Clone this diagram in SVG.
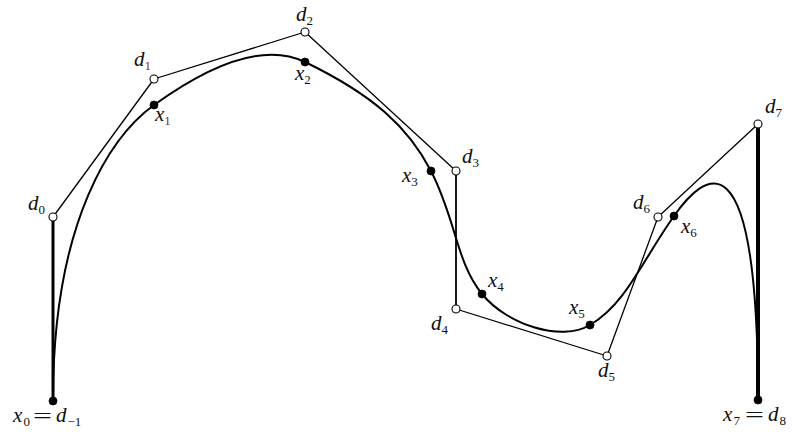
<svg xmlns="http://www.w3.org/2000/svg" width="793" height="433" viewBox="0 0 793 433">
<style>
.poly{fill:none;stroke:#000;stroke-width:1.3;stroke-linejoin:round}
.curve{fill:none;stroke:#000;stroke-width:2}
.ctrl{fill:#fff;stroke:#000;stroke-width:1.1}
.knot{fill:#000;stroke:#000;stroke-width:0.8}
.lbl{font-family:"Liberation Serif","DejaVu Serif",serif;font-style:italic;font-size:21px;fill:#111}
.sub{font-family:"Liberation Serif","DejaVu Serif",serif;font-style:normal;font-size:13px;fill:#111}
.eq{font-family:"Liberation Serif","DejaVu Serif",serif;font-size:22px;fill:#111}
.red{fill:#7a1f3d}
</style>
<rect width="793" height="433" fill="#fff"/>
<g id="connectors">
<line x1="53" y1="400" x2="53" y2="217" stroke="#000" stroke-width="3"/>
<line x1="758" y1="124" x2="758" y2="400" stroke="#000" stroke-width="4"/>
<polyline class="poly" points="53,217 154,79 305,32 456,171"/>
<line x1="456" y1="171" x2="456" y2="309" stroke="#000" stroke-width="1.8"/>
<polyline class="poly" points="456,309 607,356 658,217 758,124"/>
<path class="curve" d="M53,400 C53,217 113.6,134.2 154,105 C217.2,59.4 267.25,43.75 305,62 C373.6,95.2 408.3,127.1 431,171 C456,219.3 456,262 482,294 C507.1,324.9 561.7,342 590,325 C626.4,303.2 641.7,261.5 674,216 C703,175.15 758,124 758,400"/>
</g>
<g id="d0"><circle class="ctrl" cx="53" cy="217" r="4"/><text class="lbl" x="28" y="210">d<tspan class="sub" dy="4">0</tspan></text></g>
<g id="d1"><circle class="ctrl" cx="154" cy="79" r="4"/><text class="lbl" x="134" y="66">d<tspan class="sub red" dy="4">1</tspan></text></g>
<g id="d2"><circle class="ctrl" cx="305" cy="32" r="4"/><text class="lbl" x="296" y="21">d<tspan class="sub" dy="4">2</tspan></text></g>
<g id="d3"><circle class="ctrl" cx="456" cy="171" r="4"/><text class="lbl" x="462" y="163">d<tspan class="sub" dy="4">3</tspan></text></g>
<g id="d4"><circle class="ctrl" cx="456" cy="309" r="4"/><text class="lbl" x="431" y="330">d<tspan class="sub" dy="4">4</tspan></text></g>
<g id="d5"><circle class="ctrl" cx="607" cy="356" r="4"/><text class="lbl" x="598" y="377">d<tspan class="sub" dy="4">5</tspan></text></g>
<g id="d6"><circle class="ctrl" cx="658" cy="217" r="4"/><text class="lbl" x="633" y="209">d<tspan class="sub" dy="4">6</tspan></text></g>
<g id="d7"><circle class="ctrl" cx="758" cy="124" r="4"/><text class="lbl" x="765" y="113">d<tspan class="sub" dy="4">7</tspan></text></g>
<g id="x0"><circle class="knot" cx="53" cy="401" r="4"/>
<text class="lbl" x="13" y="422">x</text><text class="sub" x="23.5" y="426">0</text>
<text class="eq" x="33" y="423" textLength="19" lengthAdjust="spacingAndGlyphs">=</text>
<text class="lbl" x="56" y="422">d</text><text class="sub" x="67.5" y="426">−1</text></g>
<g id="x1"><circle class="knot" cx="154" cy="105" r="4"/><text class="lbl" x="155" y="121">x<tspan class="sub red" dy="4">1</tspan></text></g>
<g id="x2"><circle class="knot" cx="305" cy="62" r="4"/><text class="lbl" x="295" y="80">x<tspan class="sub" dy="4">2</tspan></text></g>
<g id="x3"><circle class="knot" cx="431" cy="171" r="4"/><text class="lbl" x="402" y="182">x<tspan class="sub" dy="4">3</tspan></text></g>
<g id="x4"><circle class="knot" cx="482" cy="294" r="4"/><text class="lbl" x="488" y="287">x<tspan class="sub" dy="4">4</tspan></text></g>
<g id="x5"><circle class="knot" cx="590" cy="325" r="4"/><text class="lbl" x="569" y="314">x<tspan class="sub" dy="4">5</tspan></text></g>
<g id="x6"><circle class="knot" cx="674" cy="216" r="4"/><text class="lbl" x="681" y="233">x<tspan class="sub" dy="4">6</tspan></text></g>
<g id="x7"><circle class="knot" cx="758" cy="400" r="4"/>
<text class="lbl" x="723" y="421">x</text><text class="sub" x="733.5" y="425">7</text>
<text class="eq" x="745" y="422" textLength="19" lengthAdjust="spacingAndGlyphs">=</text>
<text class="lbl" x="768" y="421">d</text><text class="sub" x="779.5" y="425">8</text></g>
</svg>
